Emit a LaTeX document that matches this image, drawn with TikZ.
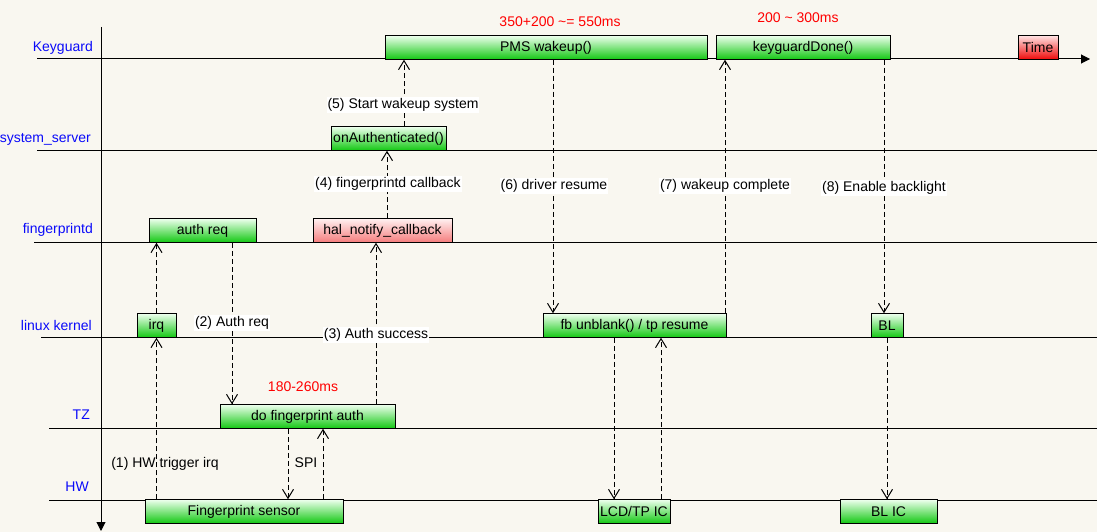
\documentclass[tikz,border=0pt]{standalone}
\usepackage{fontspec}
\setmainfont{Liberation Sans}
\usepackage{xcolor}
\usepackage{tikz}
\usetikzlibrary{arrows.meta}
\definecolor{paper}{RGB}{249,247,240}
\definecolor{lanetext}{RGB}{10,10,250}
\definecolor{okpale}{RGB}{236,255,236}
\definecolor{okgreen}{RGB}{20,200,20}
\definecolor{hotpale}{RGB}{255,225,225}
\definecolor{hotred}{RGB}{238,10,10}
\definecolor{halpale}{RGB}{255,240,240}
\definecolor{halred}{RGB}{245,125,125}
\newcommand{\diafont}{\fontsize{14}{16}\selectfont}

\begin{document}
\begin{tikzpicture}[x=1pt, y=-1pt,
    every node/.style={font=\diafont},
    lane/.style={line width=1pt},
    lanename/.style={anchor=east, text=lanetext, inner sep=0pt},
    grnbox/.style={draw, line width=1pt, inner sep=0pt, minimum height=23.5pt,
      top color=okpale, bottom color=okgreen},
    redbox/.style={grnbox, top color=hotpale, bottom color=hotred},
    pinkbox/.style={grnbox, top color=halpale, bottom color=halred},
    msg/.style={line width=1pt, dash pattern=on 5pt off 3pt,
      -{Straight Barb[length=9pt,width=11pt]}},
    note/.style={fill=white, inner sep=1pt},
    timing/.style={text=red, inner sep=0pt}]
  % Paper
  \fill[paper] (0,0) rectangle (1097,532);
  \useasboundingbox (0,0) rectangle (1097,532);

  % Time axes
  \draw[line width=1pt, -{Triangle[length=9pt,width=9pt]}] (101,27) -- (101,531);
  \draw[lane, -{Triangle[length=9pt,width=9pt]}] (37,59) -- (1090,59);
  \draw[lane] (37,150) -- (1097,150);
  \draw[lane] (34,242) -- (1097,242);
  \draw[lane] (41,337) -- (1097,337);
  \draw[lane] (49,428) -- (1097,428);
  \draw[lane] (49,500) -- (1097,500);

  % Lane names
  \node[lanename] (kg) at (93,48) {Keyguard};
  \node[lanename] (ss) at (91,139) {system\_server};
  \node[lanename] (fpd) at (93,230) {fingerprintd};
  \node[lanename] (lk) at (92,325) {linux kernel};
  \node[lanename] (tz) at (90,415) {TZ};
  \node[lanename] (hw) at (89,487) {HW};

  % Boxes
  \node[grnbox, minimum width=322pt] (pms) at (546,47.5) {PMS wakeup()};
  \node[grnbox, minimum width=174pt] (kgdone) at (803,47.5) {keyguardDone()};
  \node[redbox, minimum width=40pt] (time) at (1038,47.5) {Time};
  \node[grnbox, minimum width=115pt] (onauth) at (388.5,138.5) {onAuthenticated()};
  \node[grnbox, minimum width=107pt] (authreq) at (202.5,230.5) {auth req};
  \node[pinkbox, minimum width=139pt] (hal) at (382.5,230.5) {hal\_notify\_callback};
  \node[grnbox, minimum width=39pt] (irq) at (156.5,325.5) {irq};
  \node[grnbox, minimum width=183pt] (fbun) at (634.5,325.5) {fb unblank() / tp resume};
  \node[grnbox, minimum width=32pt] (bl) at (887,325.5) {BL};
  \node[grnbox, minimum width=175pt] (dofp) at (307.5,416.5) {do fingerprint auth};
  \node[grnbox, minimum width=198pt] (sensor) at (244,511.5) {Fingerprint sensor};
  \node[grnbox, minimum width=72pt] (lcd) at (634,511.5) {LCD/TP IC};
  \node[grnbox, minimum width=97pt] (blic) at (888.5,511.5) {BL IC};

  % Messages
  \draw[msg] (sensor.north -| irq.south) -- (irq.south);
  \draw[msg] (irq.north) -- (authreq.south -| irq.north);
  \draw[msg] (authreq.south -| 232,0) -- (dofp.north -| 232,0);
  \draw[msg] (dofp.south -| 288,0) -- (sensor.north -| 288,0);
  \draw[msg] (sensor.north -| 323,0) -- (dofp.south -| 323,0);
  \draw[msg] (dofp.north -| 376,0) -- (hal.south -| 376,0);
  \draw[msg] (hal.north -| 387,0) -- (onauth.south -| 387,0);
  \draw[msg] (onauth.north -| 404,0) -- (pms.south -| 404,0);
  \draw[msg] (pms.south -| 553,0) -- (fbun.north -| 553,0);
  \draw[msg] (fbun.north -| 725,0) -- (kgdone.south -| 725,0);
  \draw[msg] (kgdone.south -| 884,0) -- (bl.north -| 884,0);
  \draw[msg] (fbun.south -| 614,0) -- (lcd.north -| 614,0);
  \draw[msg] (lcd.north -| 661,0) -- (fbun.south -| 661,0);
  \draw[msg] (bl.south -| 887,0) -- (blic.north -| 887,0);

  % Step labels
  \node[inner sep=1pt] (step1) at (165,464) {(1) HW trigger irq};
  \node[note] (step2) at (232,323) {(2) Auth req};
  \node[note] (step3) at (376,335) {(3) Auth success};
  \node[note] (step4) at (388,184) {(4) fingerprintd callback};
  \node[note] (step5) at (403,105) {(5) Start wakeup system};
  \node[note] (step6) at (554,186) {(6) driver resume};
  \node[note] (step7) at (725,186) {(7) wakeup complete};
  \node[note] (step8) at (884,188) {(8) Enable backlight};
  \node[inner sep=1pt] (spi) at (306,463) {SPI};

  % Timings
  \node[timing] (tauth) at (303,387) {180-260ms};
  \node[timing] (twake) at (560,22) {350+200 \textasciitilde= 550ms};
  \node[timing] (tdone) at (798,18) {200 \textasciitilde{} 300ms};
\end{tikzpicture}
\end{document}
